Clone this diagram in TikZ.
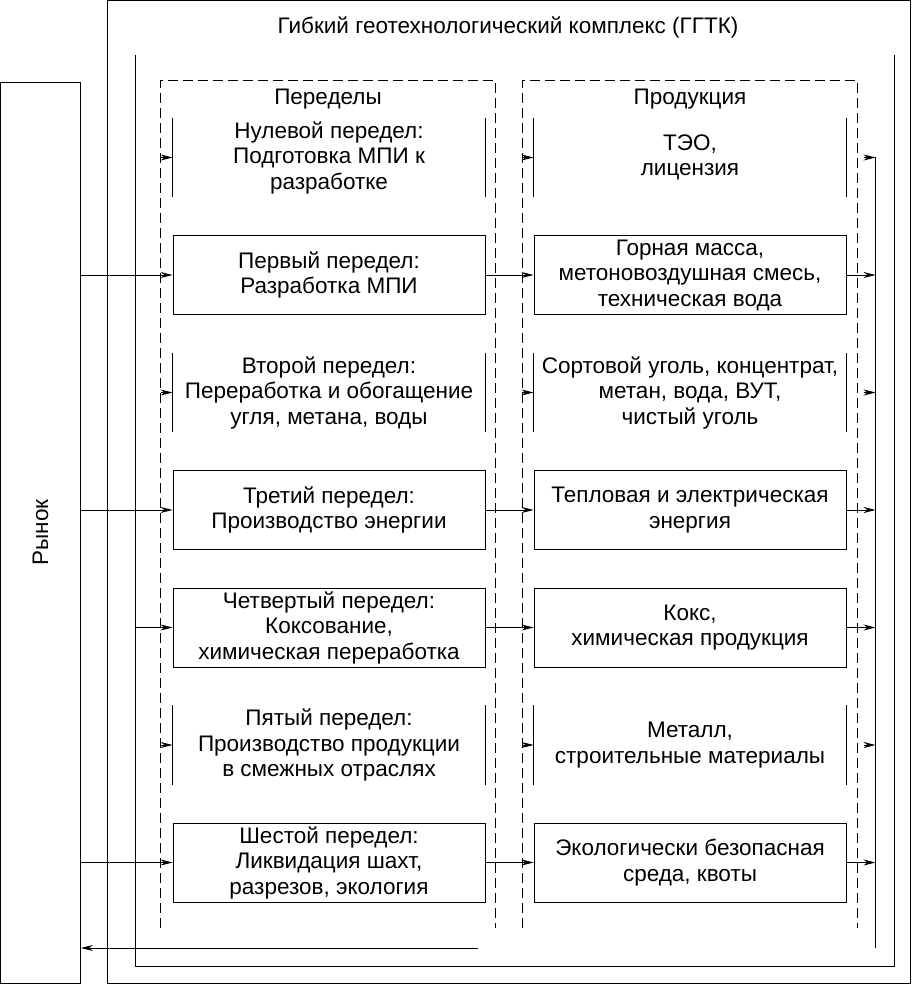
\documentclass[tikz,border=0pt]{standalone}
\usepackage{fontspec}
\setmainfont{Liberation Sans}
\usetikzlibrary{arrows.meta,positioning,calc}

\begin{document}
\begin{tikzpicture}[x=1pt,y=-1pt,>={Stealth[length=12pt,width=6pt]},
                    node distance=117.5pt,line width=0.9pt,
                    font=\fontsize{22.5}{25.5}\selectfont]
  \tikzstyle{box}=[minimum width=312pt,minimum height=79pt,align=center,inner sep=0pt]
  \tikzstyle{fullbox}=[box,draw]
  \tikzstyle{halfbox}=[box]
  \tikzstyle{column}=[draw,dash pattern=on 10pt off 5pt]

  \useasboundingbox (0,0) rectangle (911,984);

  % frames
  \draw (107.5,0.5) rectangle (910.5,983.5);
  \coordinate (inL) at (135,55);
  \draw (inL) -- (135,966.5) -- (894.5,966.5) -- (894.5,55);
  \node (ggtk) at (508,27) {Гибкий геотехнологический комплекс (ГГТК)};

  \node[draw,minimum width=80pt,minimum height=901pt] (market) at (40.5,532.5) {};
  \node[rotate=90] at (market) {Рынок};

  % columns
  \draw[column] (160,928) -- (160,80.5) -- (495,80.5) -- (495,928);
  \draw[column] (522,928) -- (522,80.5) -- (857,80.5) -- (857,928);
  \node (hstage) at (328,99) {Переделы};
  \node (hprod)  at (690,99) {Продукция};

  % stages
  \node[halfbox] (s0) at (329,157.5) {Нулевой передел:\\Подготовка МПИ к\\разработке};
  \node[fullbox] (s1) [below of=s0] {Первый передел:\\Разработка МПИ};
  \node[halfbox] (s2) [below of=s1] {Второй передел:\\Переработка и обогащение\\угля, метана, воды};
  \node[fullbox] (s3) [below of=s2] {Третий передел:\\Производство энергии};
  \node[fullbox] (s4) [below of=s3] {Четвертый передел:\\Коксование,\\химическая переработка};
  \node[halfbox] (s5) [below of=s4] {Пятый передел:\\Производство продукции\\в смежных отраслях};
  \node[fullbox] (s6) [below of=s5] {Шестой передел:\\Ликвидация шахт,\\разрезов, экология};

  % products
  \node[halfbox] (p0) at (690,157.5) {ТЭО,\\лицензия};
  \node[fullbox] (p1) [below of=p0] {Горная масса,\\метоновоздушная смесь,\\техническая вода};
  \node[halfbox] (p2) [below of=p1] {Сортовой уголь, концентрат,\\метан, вода, ВУТ,\\чистый уголь};
  \node[fullbox] (p3) [below of=p2] {Тепловая и электрическая\\энергия};
  \node[fullbox] (p4) [below of=p3] {Кокс,\\химическая продукция};
  \node[halfbox] (p5) [below of=p4] {Металл,\\строительные материалы};
  \node[fullbox] (p6) [below of=p5] {Экологически безопасная\\среда, квоты};

  \path (s0.north west) edge (s0.south west) (s0.north east) edge (s0.south east)
        (s2.north west) edge (s2.south west) (s2.north east) edge (s2.south east)
        (s5.north west) edge (s5.south west) (s5.north east) edge (s5.south east)
        (p0.north west) edge (p0.south west) (p0.north east) edge (p0.south east)
        (p2.north west) edge (p2.south west) (p2.north east) edge (p2.south east)
        (p5.north west) edge (p5.south west) (p5.north east) edge (p5.south east);

  % market -> stages
  \draw[->] (market.east |- s1) -- (s1);
  \draw[->] (market.east |- s3) -- (s3);
  \draw[->] (inL |- s4) -- (s4);
  \draw[->] (market.east |- s6) -- (s6);
  \draw[->] ($(s0.west)+(-12,0)$) -- (s0.west);
  \draw[->] ($(s2.west)+(-12,0)$) -- (s2.west);
  \draw[->] ($(s5.west)+(-12,0)$) -- (s5.west);

  % stages -> products
  \draw[->] (s1) -- (p1);
  \draw[->] (s3) -- (p3);
  \draw[->] (s4) -- (p4);
  \draw[->] (s6) -- (p6);
  \draw[->] ($(p0.west)+(-12,0)$) -- (p0.west);
  \draw[->] ($(p2.west)+(-12,0)$) -- (p2.west);
  \draw[->] ($(p5.west)+(-12,0)$) -- (p5.west);

  % products -> back to market
  \coordinate (rtop) at (875.5,157.5);
  \coordinate (rbot) at (875.5,948);
  \coordinate (ret)  at (478,948);
  \draw (rtop) -- (rbot);
  \draw[->] (p1) -- (rtop |- p1);
  \draw[->] (p3) -- (rtop |- p3);
  \draw[->] (p4) -- (rtop |- p4);
  \draw[->] (p6) -- (rtop |- p6);
  \draw[->] ($(rtop |- p0)+(-12,0)$) -- (rtop |- p0);
  \draw[->] ($(rtop |- p2)+(-12,0)$) -- (rtop |- p2);
  \draw[->] ($(rtop |- p5)+(-12,0)$) -- (rtop |- p5);
  \draw[->] (ret) -- (market.east |- ret);
\end{tikzpicture}
\end{document}
